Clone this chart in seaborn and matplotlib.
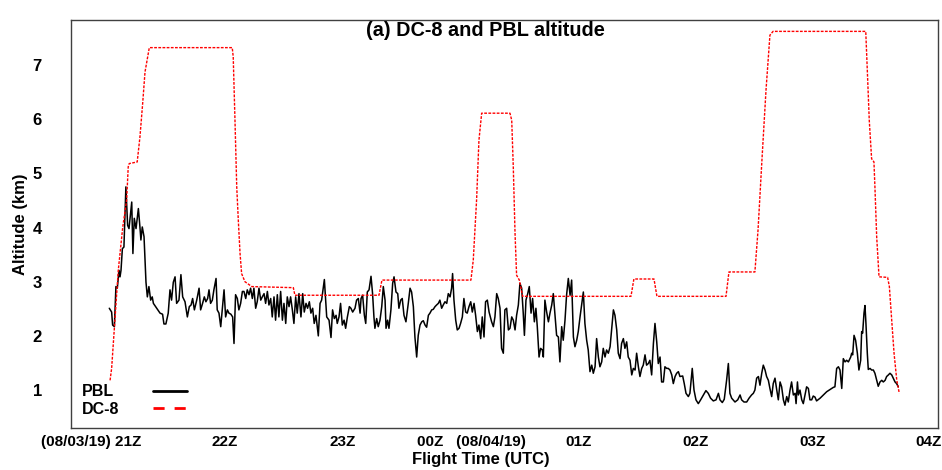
import numpy as np
import pandas as pd
import matplotlib
matplotlib.use("Agg")
import matplotlib.pyplot as plt
import matplotlib.transforms as mtransforms
from matplotlib.lines import Line2D
import seaborn as sns

# ---- data: minutes after 21Z (08/03/19), altitude in km ----
pbl_min = [-2.4, -1.2, -0.7, 0.2, 1.0, 1.7, 2.6, 3.1, 3.6, 4.3, 5.1, 6.1, 7.0, 7.7, 9.1, 9.7, 10.4, 11.3, 12.5, 13.3,
           13.8, 14.5, 15.4, 16.4, 17.1, 17.9, 18.8, 19.6, 20.2, 21.9, 23.6, 24.9, 25.6, 26.6, 27.8, 28.7, 29.5, 30.4,
           31.3, 32.1, 33.3, 34.3, 35.2, 36.4, 37.6, 38.6, 39.5, 40.3, 41.2, 42.4, 43.6, 44.4, 45.4, 46.3, 47.1, 48.0,
           48.7, 49.5, 50.4, 51.2, 52.3, 52.9, 53.8, 54.7, 55.5, 56.4, 57.2, 58.1, 58.9, 59.9, 60.8, 61.5, 62.3, 63.2,
           64.0, 64.9, 65.8, 66.6, 67.5, 68.3, 69.2, 70.0, 70.9, 71.7, 72.6, 73.4, 74.3, 75.2, 76.0, 76.9, 77.7, 78.6,
           79.4, 80.3, 81.1, 82.0, 82.8, 83.7, 84.5, 85.4, 86.3, 87.1, 88.0, 88.8, 89.7, 90.5, 91.4, 92.2, 93.1, 93.9,
           94.8, 95.8, 96.7, 97.5, 98.4, 99.2, 100.1, 100.9, 101.8, 102.6, 103.5, 104.7, 105.6, 106.4, 107.8, 109.0,
           110.2, 111.2, 112.0, 112.9, 113.8, 114.4, 115.3, 116.1, 117.0, 117.9, 118.7, 119.6, 120.6, 121.4, 122.3,
           123.5, 124.3, 125.2, 126.1, 126.6, 127.4, 128.3, 129.0, 129.8, 130.7, 131.7, 132.5, 133.2, 133.7, 134.6,
           135.4, 136.3, 137.2, 138.0, 138.9, 139.4, 140.2, 140.9, 141.9, 142.8, 143.5, 144.5, 145.4, 146.0, 146.9,
           147.7, 148.6, 149.6, 150.8, 151.7, 152.5, 153.4, 154.2, 155.1, 155.9, 156.8, 157.7, 158.5, 159.4, 160.2,
           161.1, 161.9, 162.8, 163.6, 164.5, 165.3, 166.2, 167.0, 167.9, 168.7, 169.6, 170.5, 171.3, 172.2, 173.0,
           173.5, 174.2, 175.1, 175.9, 176.8, 177.6, 178.5, 179.3, 180.2, 181.0, 181.9, 182.8, 183.6, 184.5, 185.3,
           186.2, 187.0, 187.9, 188.7, 189.6, 190.4, 191.3, 192.2, 193.5, 194.4, 195.2, 196.1, 196.9, 197.8, 198.6,
           199.5, 200.3, 201.2, 202.1, 202.9, 203.8, 204.6, 205.5, 206.3, 207.2, 208.0, 208.9, 209.7, 210.3, 211.1,
           212.0, 212.8, 213.7, 214.5, 215.4, 216.2, 216.9, 217.8, 218.6, 219.5, 220.0, 220.8, 221.7, 222.6, 223.4,
           224.3, 225.1, 226.0, 226.8, 227.7, 228.5, 229.4, 230.2, 231.1, 231.9, 232.8, 233.7, 234.5, 235.4, 236.2,
           237.1, 237.9, 238.8, 239.6, 240.5, 241.3, 242.2, 243.0, 243.9, 244.8, 245.6, 246.5, 247.3, 248.2, 249.0,
           249.9, 250.7, 251.6, 252.4, 253.3, 254.2, 255.0, 255.9, 256.7, 257.6, 258.4, 259.3, 260.1, 261.0, 261.8,
           262.7, 263.5, 264.4, 265.3, 266.1, 267.0, 267.8, 268.7, 269.5, 270.4, 271.2, 272.1, 272.9, 273.8, 274.6,
           275.5, 276.4, 277.2, 278.1, 278.9, 279.8, 280.6, 281.5, 282.3, 283.2, 284.0, 284.9, 285.8, 286.6, 287.5,
           288.3, 289.2, 290.0, 291.4, 292.2, 293.1, 294.3, 295.1, 296.3, 297.2, 298.2, 299.4, 300.6, 302.0, 303.3,
           304.5, 305.7, 307.1, 308.5, 309.7, 310.5, 311.7, 312.7, 313.9, 314.8, 315.6, 316.5, 318.2, 319.6, 320.8,
           321.6, 322.8, 324.2, 325.4, 326.7, 327.6, 328.4, 329.3, 330.2, 331.0, 331.9, 332.7, 333.6, 334.4, 335.3,
           336.1, 337.0, 337.8, 338.7, 339.6, 340.4, 341.3, 342.1, 343.0, 343.8, 344.7, 345.5, 346.4, 347.2, 348.1,
           349.0, 349.5, 350.2, 350.7, 351.5, 352.4, 353.2, 354.1, 354.9, 355.8, 356.6, 357.5, 358.3, 359.2, 360.0,
           361.8, 363.5, 365.2, 366.9, 368.6, 369.4, 370.3, 371.2, 372.0, 372.9, 373.7, 374.6, 375.4, 376.3, 377.5,
           378.0, 378.5, 379.2, 380.0, 380.9, 381.7, 382.6, 383.1, 383.6, 384.3, 384.8, 385.3, 386.0, 386.5, 387.4,
           388.2, 389.1, 389.9, 390.8, 391.6, 392.5, 393.4, 394.2, 395.1, 395.9, 396.8, 397.6, 398.5, 399.3, 400.2,
           401.0, 401.9]
pbl_km = [2.51, 2.44, 2.20, 2.17, 2.91, 2.88, 3.21, 3.09, 3.21, 3.61, 3.64, 4.75, 4.04, 3.98, 4.47, 3.52, 4.17, 3.98,
          4.35, 4.01, 3.77, 4.01, 3.83, 2.99, 2.72, 2.91, 2.66, 2.72, 2.60, 2.51, 2.42, 2.40, 2.22, 2.22, 2.42, 2.85,
          2.66, 2.99, 3.09, 2.60, 2.66, 3.13, 2.72, 2.63, 2.35, 2.54, 2.57, 2.69, 2.48, 2.66, 2.88, 2.48, 2.60, 2.72,
          2.63, 2.69, 2.85, 2.60, 2.66, 2.85, 3.06, 2.48, 2.42, 2.17, 2.48, 2.85, 2.35, 2.48, 2.42, 2.40, 2.35, 1.86,
          2.76, 2.69, 2.48, 2.60, 2.82, 2.82, 2.69, 2.85, 2.76, 2.88, 2.69, 2.88, 2.51, 2.63, 2.88, 2.66, 2.72, 2.78,
          2.60, 2.82, 2.57, 2.69, 2.35, 2.72, 2.29, 2.76, 2.35, 2.82, 2.29, 2.60, 2.23, 2.72, 2.54, 2.72, 2.48, 2.23,
          2.72, 2.42, 2.78, 2.35, 2.78, 2.44, 2.60, 2.51, 2.63, 2.42, 2.51, 2.23, 2.38, 2.00, 2.60, 2.66, 3.04, 2.35,
          2.29, 1.97, 2.48, 2.32, 2.38, 2.23, 2.35, 2.60, 2.20, 2.29, 2.14, 2.35, 2.54, 2.51, 2.44, 2.51, 2.66, 2.69,
          2.42, 2.69, 2.75, 2.38, 2.23, 2.81, 2.85, 3.10, 2.78, 2.35, 2.14, 2.32, 2.17, 2.29, 2.54, 2.91, 2.66, 2.14,
          2.29, 2.14, 2.48, 2.97, 3.09, 2.81, 2.78, 2.51, 2.66, 2.69, 2.38, 2.26, 2.60, 2.88, 2.81, 2.54, 1.98, 1.61,
          2.01, 2.20, 2.26, 2.28, 2.20, 2.16, 2.38, 2.42, 2.48, 2.49, 2.54, 2.57, 2.60, 2.66, 2.51, 2.57, 2.63, 2.60,
          2.78, 2.72, 2.88, 3.15, 2.66, 2.29, 2.11, 2.14, 2.23, 2.35, 2.69, 2.44, 2.42, 2.54, 2.63, 2.44, 2.60, 2.38,
          2.08, 2.20, 1.95, 2.35, 1.98, 2.63, 2.66, 2.44, 2.26, 2.17, 2.35, 2.78, 2.69, 2.51, 1.77, 1.68, 2.48, 2.51,
          2.11, 2.14, 2.35, 2.29, 2.11, 2.38, 2.57, 2.97, 2.88, 2.42, 2.01, 2.66, 2.78, 2.91, 2.42, 2.69, 2.26, 2.51,
          2.17, 1.61, 1.77, 1.74, 1.61, 2.66, 2.44, 2.26, 2.42, 2.57, 2.78, 2.38, 2.01, 1.98, 1.52, 2.17, 1.92, 2.29,
          2.75, 3.06, 2.75, 3.03, 1.98, 1.80, 1.92, 2.08, 2.35, 2.57, 2.81, 2.23, 1.92, 1.74, 1.34, 1.46, 1.31, 1.43,
          1.95, 1.61, 1.43, 1.52, 1.77, 1.61, 1.74, 1.68, 1.80, 2.11, 2.48, 2.38, 2.11, 1.68, 1.58, 1.86, 1.95, 1.77,
          1.89, 1.61, 1.55, 1.28, 1.40, 1.37, 1.68, 1.43, 1.25, 1.40, 1.46, 1.65, 1.46, 1.49, 1.55, 1.28, 1.86, 2.23,
          1.89, 1.49, 1.61, 1.15, 1.15, 1.43, 1.40, 1.40, 1.37, 1.28, 1.12, 1.25, 1.31, 1.34, 1.25, 1.26, 1.12, 0.94,
          0.88, 0.94, 1.40, 1.00, 0.82, 0.75, 0.82, 0.91, 0.99, 0.94, 0.85, 0.80, 0.82, 0.94, 0.82, 0.77, 0.83, 1.18,
          1.49, 0.94, 0.85, 0.78, 0.82, 0.91, 0.82, 0.78, 0.78, 0.85, 0.91, 0.94, 1.00, 1.22, 1.25, 1.09, 1.31, 1.46,
          1.37, 1.25, 1.18, 1.03, 0.88, 1.12, 1.22, 1.00, 0.82, 1.15, 1.06, 0.82, 0.72, 0.88, 0.78, 1.00, 1.15, 0.91,
          0.94, 0.75, 1.15, 0.91, 1.00, 0.82, 0.75, 0.91, 1.06, 1.03, 0.82, 0.82, 0.89, 0.87, 0.80, 0.85, 0.91, 0.97,
          1.01, 1.05, 1.06, 1.40, 1.43, 1.37, 1.03, 1.58, 1.52, 1.55, 1.52, 1.61, 1.68, 1.65, 2.01, 1.92, 1.68, 1.37,
          1.55, 2.08, 2.05, 2.42, 2.56, 2.23, 1.68, 1.38, 1.40, 1.37, 1.37, 1.31, 1.18, 1.07, 1.15, 1.18, 1.15, 1.18,
          1.25, 1.28, 1.31, 1.28, 1.22, 1.15, 1.12, 1.06]

dc8_min = [-2.0, -1.2, 2.2, 4.5, 6.5, 7.3, 7.8, 11.9, 13.3, 14.7, 15.9, 18.1, 60.6, 61.1, 62.0, 62.9, 63.7, 64.6,
           65.4, 67.1, 70.6, 91.9, 92.7, 135.8, 137.3, 182.9, 184.1, 185.8, 187.0, 188.4, 202.9, 203.8, 204.6,
           205.5, 206.3, 207.7, 209.4, 264.9, 266.4, 276.7, 278.2, 313.6, 315.1, 328.4, 330.0, 332.0, 334.1,
           336.1, 337.7, 385.2, 386.0, 387.0, 388.2, 389.4, 389.9, 390.8, 392.0, 396.4, 397.3, 398.5, 399.7,
           401.1, 402.4]
dc8_km = [1.18, 1.40, 3.21, 4.01, 4.51, 5.12, 5.18, 5.21, 5.67, 6.29, 6.87, 7.32, 7.32, 7.15, 5.98, 4.75, 4.14, 3.52,
          3.15, 3.00, 2.91, 2.89, 2.75, 2.75, 3.03, 3.03, 3.40, 4.51, 5.61, 6.11, 6.11, 5.98, 5.12, 3.89, 3.12, 3.03,
          2.73, 2.73, 3.05, 3.05, 2.73, 2.73, 3.18, 3.18, 3.95, 5.24, 6.54, 7.55, 7.62, 7.62, 6.90, 5.98, 5.27,
          5.21, 4.75, 3.83, 3.09, 3.08, 2.91, 2.29, 1.68, 1.18, 0.94]

hour_ticks = [21, 22, 23, 24, 25, 26, 27, 28]
hour_labels = ["(08/03/19) 21Z", "22Z", "23Z", "00Z   (08/04/19)", "01Z", "02Z", "03Z", "04Z"]
alt_ticks = [1, 2, 3, 4, 5, 6, 7]

# ---- style ----
sns.set_style("white")
plt.rcParams["font.family"] = ["Liberation Sans Narrow", "Liberation Sans", "DejaVu Sans"]
plt.rcParams["font.weight"] = "bold"
plt.rcParams["text.color"] = "black"
plt.rcParams["axes.labelcolor"] = "black"
plt.rcParams["xtick.color"] = "black"
plt.rcParams["ytick.color"] = "black"

fig = plt.figure(figsize=(9.42, 4.70), dpi=100)
ax = fig.add_axes([71 / 942, 1 - 428 / 470, 867 / 942, 408 / 470])

pbl = pd.DataFrame({"hour": 21 + np.array(pbl_min) / 60.0, "alt": pbl_km})
dc8 = pd.DataFrame({"hour": 21 + np.array(dc8_min) / 60.0, "alt": dc8_km})

sns.lineplot(data=pbl, x="hour", y="alt", ax=ax, color="black", lw=1.1,
             estimator=None, sort=False)
sns.lineplot(data=dc8, x="hour", y="alt", ax=ax, color="red", lw=1.0,
             estimator=None, sort=False)
ax.lines[1].set_linestyle((0, (2, 1)))

ax.set_xlim(20.633, 28.037)
ax.set_ylim(0.30, 7.83)

ax.set_xticks(hour_ticks)
ax.set_xticklabels(hour_labels, fontsize=11, fontweight="bold")
ax.set_yticks(alt_ticks)
ax.set_yticklabels([str(v) for v in alt_ticks], fontsize=12, fontweight="bold")
ax.tick_params(axis="x", direction="out", length=3, color="#c0c0c0", labelcolor="black", pad=2)
ax.tick_params(axis="y", direction="out", length=3, color="#c0c0c0", labelcolor="black", pad=18)

# small horizontal shifts of the x labels, as in the reference
shifts_px = [-23, -6, -5, 6, -4, -4, -4, -5]
for lab, dx in zip(ax.get_xticklabels(), shifts_px):
    lab.set_transform(lab.get_transform() + mtransforms.ScaledTranslation(dx / 100.0, 0, fig.dpi_scale_trans))

ax.set_xlabel("Flight Time (UTC)", fontsize=12, fontweight="bold")
ax.xaxis.set_label_coords(0.473, -0.060)
ax.set_ylabel("Altitude (km)", fontsize=12, fontweight="bold", labelpad=3)

for s in ax.spines.values():
    s.set_visible(True)
    s.set_color("#404040")
    s.set_linewidth(1.0)

ax.text(0.478, 0.975, "(a) DC-8 and PBL altitude", transform=ax.transAxes,
        ha="center", va="center", fontsize=14.3, fontweight="bold")

handles = [Line2D([], [], color="black", lw=2),
           Line2D([], [], color="red", lw=2, linestyle=(0, (4, 3.6)))]
leg_fs = 11.5
leg = ax.legend(handles, ["PBL", "DC-8"], loc="lower left", bbox_to_anchor=(0.0, 0.0),
                frameon=False, markerfirst=False, handlelength=2.1, handletextpad=2.1,
                labelspacing=0.15, borderaxespad=0.3, prop={"weight": "bold", "size": leg_fs})

# left-align the legend texts while keeping the handles in one column
fig.canvas.draw()
renderer = fig.canvas.get_renderer()
widths = [t.get_window_extent(renderer).width * 72.0 / fig.dpi for t in leg.get_texts()]
col = leg._legend_handle_box.get_children()[0]
col.align = "left"
base = 2.1 * leg_fs
for item, w in zip(col.get_children(), widths):
    item.sep = base + (max(widths) - w)

fig.savefig("out.png", dpi=100)
